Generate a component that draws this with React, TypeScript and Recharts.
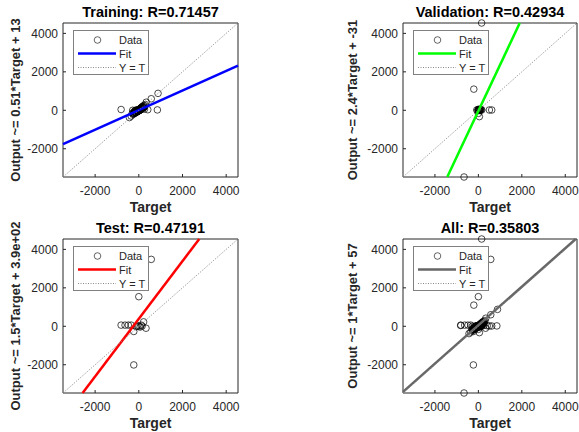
import { Scatter, ScatterChart, XAxis, YAxis } from 'recharts'

// shared limits of all four panels (min / max of every target and output)
const LO = -3470
const HI = 4540
const TICKS = [-2000, 0, 2000, 4000]

const trainX = [
  -810, -430, -350, -300, -280, -250, -220, -200, -180, -160, -150, -130, -120, -100, -90, -80, -70, -60, -50, -40, -30, -20, -10, 0, 10,
  20, 30, 40, 50, 60, 70, 80, 90, 100, 110, 120, 130, 150, 160, 180, 200, 220, 240, 260, 300, 340, 410, 570, 850, 880,
  -260, -240, -210, -190, -170, -140, -110, -95, -85, -75, -65, -55, -45, -35, -25, -15, -5, 5, 15, 25, 35, 45, 55, 65, 75, 85, 95, 105,
  115, 125, 140, 170, 190, 210, 230, 280,
]
const trainY = [
  40, -380, -300, -150, 0, -200, -100, -50, -150, 0, -80, -120, -30, -60, 20, -90, -20, -40, 10, -50, 30, -10, 20, 0, -20, 40, 10, 60,
  30, 80, 20, 100, 50, 120, 70, 150, 90, 180, 110, 200, 140, 250, 160, 60, 300, 420, 30, 600, 20, 880,
  -200, -150, -170, -120, -130, -90, -80, -70, -40, -60, -30, -50, -20, -40, -10, -30, 0, 10, -10, 20, 0, 40, 20, 50, 30, 70, 40, 80, 60,
  100, 90, 130, 110, 170, 150, 230,
]

const valX = [-660, -210, 150, -75, 0, 30, 60, 100, 155, 505, 615, 46, 0, -30, 80, 20, 40, 70, 120, -10]
const valY = [-3470, 1100, 4540, 15, -160, 20, 40, 10, 15, 15, 15, -330, 30, -20, 60, 0, 30, -10, 40, 50]

const testX = [-810, -630, -480, -350, -230, -120, -60, 0, 60, 110, 150, 220, 330, 570, 0, -230]
const testY = [60, 60, 60, 60, -270, -20, 30, 0, -40, 60, 10, 230, -100, 3480, 1540, -2010]

const titles = ['Training: R=0.71457', 'Validation: R=0.42934', 'Test: R=0.47191', 'All: R=0.35803']
const yLabels = [
  'Output ~= 0.51*Target + 13',
  'Output ~= 2.4*Target + -31',
  'Output ~= 1.5*Target + 3.9e+02',
  'Output ~= 1*Target + 57',
]
const fitSlope = [0.51, 2.4, 1.5, 1]
const fitIntercept = [13, -31, 390, 57]
const fitColors = ['#0000FF', '#00FF00', '#FF0000', '#666666']

const FONT = '"Liberation Sans", Arial, sans-serif'
const INK = '#262626'

const toPoints = (xs: number[], ys: number[]) => xs.map((x, i) => ({ x, y: ys[i] }))

const panelData = [
  toPoints(trainX, trainY),
  toPoints(valX, valY),
  toPoints(testX, testY),
  toPoints([...trainX, ...valX, ...testX], [...trainY, ...valY, ...testY]),
]

// fit line y = a*x + b, trimmed to the axes limits
function fitSegment(a: number, b: number) {
  const x0 = Math.max(LO, (LO - b) / a)
  const x1 = Math.min(HI, (HI - b) / a)
  return [
    { x: x0, y: a * x0 + b },
    { x: x1, y: a * x1 + b },
  ]
}

const identity = [
  { x: LO, y: LO },
  { x: HI, y: HI },
]

const Ring = (p: any) => <circle cx={p.cx} cy={p.cy} r={3.3} fill="none" stroke="#000" strokeWidth={0.7} />
const NoDot = () => <g />

const W = 290
const H = 216

function Legend({ color, left }: { color: string; left: number }) {
  return (
    <svg
      width={76}
      height={45}
      style={{ position: 'absolute', left, top: 30, background: '#fff', border: '1px solid #808080', boxSizing: 'border-box' }}
    >
      <circle cx={23.5} cy={9} r={3.3} fill="none" stroke="#000" strokeWidth={0.6} />
      <line x1={4} x2={42} y1={22.5} y2={22.5} stroke={color} strokeWidth={2.5} />
      <line x1={4} x2={42} y1={36.5} y2={36.5} stroke="#888" strokeWidth={1} strokeDasharray="1 1.5" />
      {['Data', 'Fit', 'Y = T'].map((t, i) => (
        <text key={t} x={45} y={9 + i * 13.8} dy={4} fontSize={11} fontFamily={FONT} fill={INK}>
          {t}
        </text>
      ))}
    </svg>
  )
}

function Panel({ idx, left, top, plotLeft, plotRight, labelX }: { idx: number; left: number; top: number; plotLeft: number; plotRight: number; labelX: number }) {
  const axisStyle = { fontSize: 12, fill: INK, fontFamily: FONT }
  return (
    <div style={{ position: 'absolute', left, top, width: W, height: H }}>
      <ScatterChart
        width={W}
        height={H}
        margin={{ top: 18, right: W - plotRight - 3, bottom: 4, left: plotLeft - 58 }}
      >
        <XAxis
          xAxisId="b"
          type="number"
          dataKey="x"
          domain={[LO, HI]}
          ticks={TICKS}
          height={35}
          tick={axisStyle}
          tickSize={-3}
          tickMargin={12}
          stroke={INK}
          label={{ value: 'Target', position: 'insideBottom', offset: 0, style: { fontSize: 14, fontWeight: 'bold', fill: INK, fontFamily: FONT } }}
        />
        <XAxis xAxisId="t" orientation="top" type="number" domain={[LO, HI]} ticks={TICKS} height={5} tick={false} tickSize={-3} stroke={INK} />
        <YAxis
          yAxisId="l"
          type="number"
          dataKey="y"
          domain={[LO, HI]}
          ticks={TICKS}
          width={58}
          tick={axisStyle}
          tickSize={-3}
          tickMargin={8}
          stroke={INK}
          label={{
            value: yLabels[idx],
            angle: -90,
            position: 'insideLeft',
            offset: labelX,
            style: { textAnchor: 'middle', fontSize: 13, fontWeight: 'bold', fill: INK, fontFamily: FONT },
          }}
        />
        <YAxis yAxisId="r" orientation="right" type="number" domain={[LO, HI]} ticks={TICKS} width={3} tick={false} tickSize={-3} stroke={INK} />
        <Scatter xAxisId="b" yAxisId="l" data={panelData[idx]} shape={Ring} isAnimationActive={false} />
        <Scatter
          xAxisId="b"
          yAxisId="l"
          data={fitSegment(fitSlope[idx], fitIntercept[idx])}
          shape={NoDot}
          line={{ stroke: fitColors[idx], strokeWidth: 2.5 }}
          isAnimationActive={false}
        />
        <Scatter
          xAxisId="b"
          yAxisId="l"
          data={identity}
          shape={NoDot}
          line={{ stroke: '#888', strokeWidth: 1, strokeDasharray: '1 1.5' }}
          isAnimationActive={false}
        />
      </ScatterChart>
      <div
        style={{
          position: 'absolute',
          left: plotLeft,
          width: plotRight - plotLeft,
          top: 3,
          textAlign: 'center',
          fontFamily: FONT,
          fontWeight: 'bold',
          fontSize: 14.5,
          lineHeight: '18px',
          color: '#000',
          whiteSpace: 'nowrap',
        }}
      >
        {titles[idx]}
      </div>
      <Legend color={fitColors[idx]} left={plotLeft + 10} />
    </div>
  )
}

export default function App() {
  return (
    <div style={{ position: 'fixed', left: 0, top: 0, width: 579, height: 432, background: '#fff', overflow: 'hidden' }}>
      <Panel idx={0} left={0} top={0} plotLeft={63} plotRight={238} labelX={10} />
      <Panel idx={1} left={290} top={0} plotLeft={113} plotRight={287} labelX={7} />
      <Panel idx={2} left={0} top={216} plotLeft={63} plotRight={238} labelX={10} />
      <Panel idx={3} left={290} top={216} plotLeft={113} plotRight={287} labelX={7} />
    </div>
  )
}
